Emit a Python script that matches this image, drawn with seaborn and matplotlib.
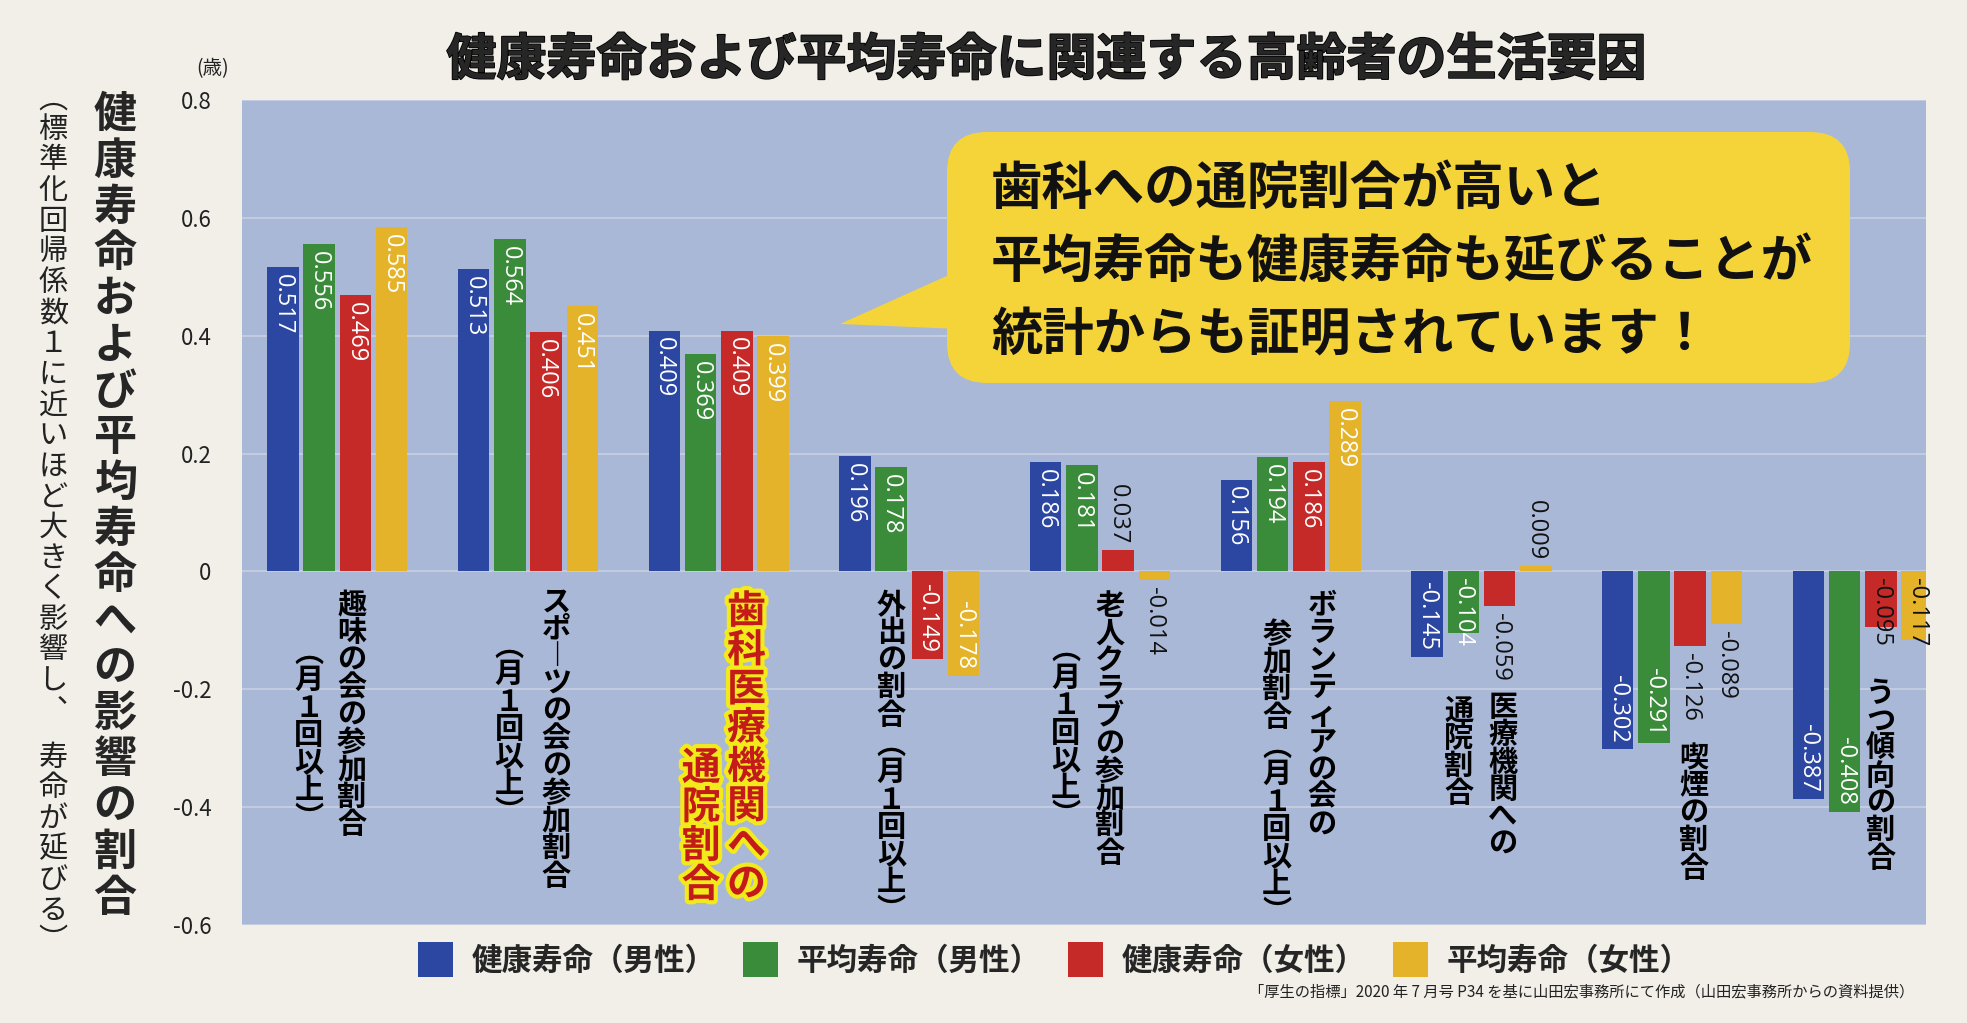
import matplotlib
matplotlib.use("Agg")
import matplotlib.pyplot as plt
import matplotlib.patheffects as pe
from matplotlib.patches import FancyBboxPatch, Polygon, Patch
import pandas as pd
import seaborn as sns

# data
factors = ["趣味の会", "スポーツの会", "歯科医療機関", "外出", "老人クラブ",
           "ボランティアの会", "医療機関", "喫煙", "うつ傾向"]
series = ["健康寿命（男性）", "平均寿命（男性）", "健康寿命（女性）", "平均寿命（女性）"]
health_male = [0.517, 0.513, 0.409, 0.196, 0.186, 0.156, -0.145, -0.302, -0.387]
life_male = [0.556, 0.564, 0.369, 0.178, 0.181, 0.194, -0.104, -0.291, -0.408]
health_female = [0.469, 0.406, 0.409, -0.149, 0.037, 0.186, -0.059, -0.126, -0.095]
life_female = [0.585, 0.451, 0.399, -0.178, -0.014, 0.289, 0.009, -0.089, -0.117]

# vertical category labels, one string per column (right column first)
factor_labels = [
    ["趣味の会の参加割合", "（月１回以上）"],
    ["スポーツの会の参加割合", "（月１回以上）"],
    ["歯科医療機関への", "通院割合"],
    ["外出の割合　（月１回以上）"],
    ["老人クラブの参加割合", "（月１回以上）"],
    ["ボランティアの会の", "参加割合　（月１回以上）"],
    ["医療機関への", "通院割合"],
    ["喫煙の割合"],
    ["うつ傾向の割合"],
]
y_ticks = [0.8, 0.6, 0.4, 0.2, 0, -0.2, -0.4, -0.6]

title = "健康寿命および平均寿命に関連する高齢者の生活要因"
y_label = "健康寿命および平均寿命への影響の割合"
y_note = "（標準化回帰係数１に近いほど大きく影響し、寿命が延びる）"
callout = ["歯科への通院割合が高いと", "平均寿命も健康寿命も延びることが", "統計からも証明されています！"]
source = "「厚生の指標」2020 年 7 月号 P34 を基に山田宏事務所にて作成（山田宏事務所からの資料提供）"

colors = ["#2c47a2", "#3a8b3a", "#c52a29", "#e5b329"]

# (x offset from group centre, top y) for each label column
label_pos = [
    [(0.075, -0.030), (-0.149, -0.130)],
    [(0.148, -0.024), (-0.099, -0.120)],
    [(0.146, -0.030), (-0.092, -0.296)],
    [(-0.094, -0.030)],
    [(0.050, -0.032), (-0.180, -0.126)],
    [(0.164, -0.030), (-0.073, -0.080)],
    [(0.112, -0.203), (-0.118, -0.210)],
    [(0.113, -0.290)],
    [(0.093, -0.180)],
]
# groups whose small negative value labels sit just under the zero line
zero_anchor = ["うつ傾向"]

# vertical-writing forms and per-glyph advance / baseline (in em)
VERT = {"（": "︵", "）": "︶", "ー": "︱", "、": "︑"}
ADV = {"（": 0.6, "）": 0.6, "　": 0.5, "、": 1.5}
BASE = {"（": 0.48, "）": 0.88}


def vtext(ax, x, y, s, size, pitch=1.0, coords="data", **kw):
    """Stack characters top to bottom, like Japanese vertical writing."""
    pos = 0.0
    for ch in s:
        adv = ADV.get(ch, 1.0)
        if ch != "　":
            base = BASE.get(ch, 0.88) + adv * (pitch - 1) / 2
            ax.annotate(VERT.get(ch, ch), (x, y), xycoords=coords,
                        xytext=(0, -(pos + base) * size), textcoords="offset points",
                        ha="center", va="baseline", fontsize=size,
                        annotation_clip=False, **kw)
        pos += adv * pitch


sns.set_style("white")
plt.rcParams["font.family"] = ["Noto Sans CJK JP", "DejaVu Sans"]

df = pd.DataFrame({
    "factor": factors * 4,
    "series": [s for s in series for _ in factors],
    "value": health_male + life_male + health_female + life_female,
})

fig = plt.figure(figsize=(19.67, 10.23), dpi=100, facecolor="#f1efe8")
ax = fig.add_axes([0.123, 0.096, 0.856, 0.806])
ax.set_facecolor("#a9b8d6")

sns.barplot(data=df, x="factor", y="value", hue="series", palette=colors,
            width=0.76, gap=0.13, saturation=1, errorbar=None, legend=False,
            linewidth=0, edgecolor="none", ax=ax)

ax.set_ylim(-0.6, 0.8)
ax.set_xlim(-0.50, 8.33)
ax.set_yticks(y_ticks)
ax.set_yticklabels(["0" if v == 0 else f"{v:.1f}" for v in y_ticks], fontsize=16, color="#222222")
ax.tick_params(axis="y", length=0, pad=22)
ax.tick_params(axis="x", length=0, labelbottom=False)
ax.set_xlabel("")
ax.set_ylabel("")
ax.grid(axis="y", color="#c8d0e2", lw=1.2)
ax.set_axisbelow(True)
for sp in ax.spines.values():
    sp.set_visible(False)

# value labels, rotated to read downward
all_vals = [health_male, life_male, health_female, life_female]
for j, vals in enumerate(all_vals):
    for bar, v, name in zip(ax.containers[j], vals, factors):
        x = bar.get_x() + bar.get_width() / 2
        kw = dict(rotation=270, rotation_mode="anchor", va="center", fontsize=17,
                  family=["Open Sans", "DejaVu Sans"], textcoords="offset points")
        if v >= 0.1:
            ax.annotate(f"{v:.3f}", (x, v), xytext=(0, -5), ha="left", color="white", **kw)
        elif v > 0:
            ax.annotate(f"{v:.3f}", (x, v), xytext=(0, 4), ha="right", color="#111111", **kw)
        elif v <= -0.14:
            ax.annotate(f"{v:.3f}", (x, v), xytext=(0, 5), ha="right", color="white", **kw)
        elif j < 2:
            ax.annotate(f"{v:.3f}", (x, 0), xytext=(0, -5), ha="left", color="white", **kw)
        elif name in zero_anchor:
            ax.annotate(f"{v:.3f}", (x, 0), xytext=(0, -5), ha="left", color="#111111", **kw)
        else:
            ax.annotate(f"{v:.3f}", (x, v), xytext=(0, -5), ha="left", color="#111111", **kw)

# category labels
for i, (cols, pos) in enumerate(zip(factor_labels, label_pos)):
    for text, (dx, ytop) in zip(cols, pos):
        if i == 2:
            vtext(ax, i + dx, ytop, text, 28, pitch=1.0, color="#c41a1a", fontweight="bold",
                  path_effects=[pe.withStroke(linewidth=6, foreground="#f3ea1c")])
        else:
            vtext(ax, i + dx, ytop, text, 21, pitch=0.94, color="black", fontweight="bold")

# title and axis texts
fig.text(0.532, 0.941, title, ha="center", va="center", fontsize=36, fontweight="bold",
         path_effects=[pe.withStroke(linewidth=1.2, foreground="black")])
fig.text(0.108, 0.933, "(歳)", ha="center", va="center", fontsize=14, color="#222222")
vtext(ax, 0.0585, 0.914, y_label, 31, pitch=1.07, coords="figure fraction", fontweight="bold")
vtext(ax, 0.027, 0.909, y_note, 21, pitch=1.05, coords="figure fraction", color="#222222")

# speech bubble
bubble_color = "#f5d43a"
fig.add_artist(FancyBboxPatch((9.47, 6.40), 9.03, 2.51, boxstyle="round,pad=0,rounding_size=0.4",
                              transform=fig.dpi_scale_trans, fc=bubble_color, ec="none"))
fig.add_artist(Polygon([(9.6, 7.53), (9.6, 6.94), (8.40, 6.99)], closed=True,
                       transform=fig.dpi_scale_trans, fc=bubble_color, ec="none"))
for k, line in enumerate(callout):
    fig.text(9.91, 8.35 - k * 0.73, line, transform=fig.dpi_scale_trans,
             ha="left", va="center", fontsize=37, fontweight="bold", color="#111111")

# legend
handles = [Patch(facecolor=c, edgecolor="none") for c in colors]
fig.legend(handles, series, loc="center", bbox_to_anchor=(0.536, 0.062), ncol=4, frameon=False,
           prop={"weight": "bold", "size": 22}, handlelength=1.15, handleheight=1.35,
           handletextpad=0.6, columnspacing=0.9)

fig.text(0.973, 0.031, source, ha="right", va="center", fontsize=11, color="#222222")

fig.savefig("out.png", dpi=100, facecolor=fig.get_facecolor())
